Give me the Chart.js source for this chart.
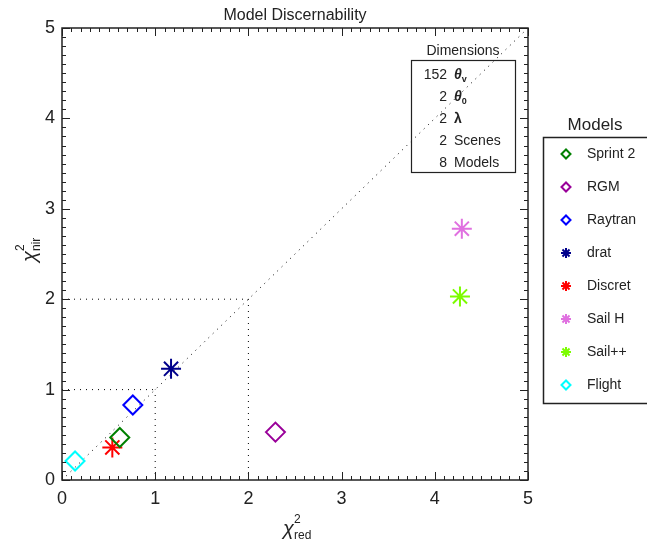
<!DOCTYPE html>
<html><head><meta charset="utf-8">
<script src="https://cdn.jsdelivr.net/npm/chart.js@4"></script>
<style>html,body{margin:0;padding:0;background:#fff;overflow:hidden}</style>
</head><body>
<canvas id="c" width="647" height="545" style="display:block;width:647px;height:545px"></canvas>
<script>
const models = ['Sprint 2','RGM','Raytran','drat','Discret','Sail H','Sail++','Flight'];
const chiRed = [0.62, 2.29, 0.76, 1.17, 0.54, 4.29, 4.27, 0.14];
const chiNir = [0.47, 0.53, 0.83, 1.23, 0.36, 2.78, 2.03, 0.21];
const colors = ['#008000','#990099','#0000ff','#00008b','#ff0000','#e070e0','#7cfc00','#00ffff'];
const markers = ['rectRot','rectRot','rectRot','star','star','star','star','rectRot'];
const axisTicks = [0, 1, 2, 3, 4, 5];
const guideX = [[0,5],[0,1],[1,1],[0,2],[2,2]];
const guideY = [[0,5],[1,1],[0,1],[2,2],[0,2]];
const dimCounts = ['152','2','2','2','8'];
const dimNames = ['θ','θ','λ','Scenes','Models'];
const dimSubs = ['v','0','','',''];

const FONT = '"Liberation Sans", Arial, sans-serif';
const AX = '#222';

const datasets = [];
guideX.forEach((gx, i) => {
  datasets.push({
    type: 'line', data: gx.map((x, j) => ({x, y: guideY[i][j]})),
    borderColor: '#000', borderWidth: 1, borderDash: [1, 5], pointRadius: 0, fill: false, order: 2
  });
});
models.forEach((m, i) => {
  const star = markers[i] === 'star';
  datasets.push({
    type: 'scatter', label: m, data: [{x: chiRed[i], y: chiNir[i]}],
    pointStyle: markers[i], pointRadius: star ? 10 : 9.5, pointHoverRadius: star ? 10 : 9.5,
    borderColor: colors[i], backgroundColor: 'rgba(0,0,0,0)', pointBorderWidth: 2, borderWidth: 2, order: 1
  });
});

const deco = {
  id: 'deco',
  afterDraw(chart) {
    const ctx = chart.ctx, xs = chart.scales.x, ys = chart.scales.y;
    const a = chart.chartArea;
    ctx.save();
    ctx.strokeStyle = AX; ctx.lineWidth = 1.5;
    ctx.strokeRect(a.left, a.top, a.right - a.left, a.bottom - a.top);
    ctx.lineWidth = 1;
    ctx.beginPath();
    for (let k = 0; k <= 50; k++) {
      const v = k / 10, major = k % 10 === 0, L = major ? 8 : 4;
      const px = Math.round(xs.getPixelForValue(v)) + 0.5;
      ctx.moveTo(px, a.bottom); ctx.lineTo(px, a.bottom - L);
      ctx.moveTo(px, a.top); ctx.lineTo(px, a.top + L);
      const py = Math.round(ys.getPixelForValue(v)) + 0.5;
      ctx.moveTo(a.left, py); ctx.lineTo(a.left + L, py);
      ctx.moveTo(a.right, py); ctx.lineTo(a.right - L, py);
    }
    ctx.stroke();

    ctx.fillStyle = '#222';
    ctx.font = '16px ' + FONT; ctx.textAlign = 'center'; ctx.textBaseline = 'alphabetic';
    ctx.fillText('Model Discernability', (a.left + a.right) / 2, 20);

    const cx = (a.left + a.right) / 2;
    ctx.textAlign = 'left';
    ctx.font = 'italic 20px ' + FONT;
    ctx.fillText('χ', cx - 12, 535);
    ctx.font = '12px ' + FONT;
    ctx.fillText('2', cx - 1, 523);
    ctx.fillText('red', cx - 1, 539);

    ctx.save();
    ctx.translate(36, 250);
    ctx.rotate(-Math.PI / 2);
    ctx.font = 'italic 20px ' + FONT;
    ctx.fillText('χ', -12, 0);
    ctx.font = '12px ' + FONT;
    ctx.fillText('2', -1, -12);
    ctx.fillText('nir', -1, 4);
    ctx.restore();

    ctx.strokeStyle = '#222'; ctx.lineWidth = 1.2;
    ctx.strokeRect(411.5, 60.5, 104, 112);
    ctx.font = '14px ' + FONT; ctx.textAlign = 'center';
    ctx.fillText('Dimensions', 463, 55);
    const rowsY = [79, 101, 123, 145, 167];
    dimCounts.forEach((c, i) => {
      ctx.font = '14px ' + FONT; ctx.textAlign = 'right';
      ctx.fillText(c, 447, rowsY[i]);
      ctx.textAlign = 'left';
      if (i < 3) {
        ctx.font = 'bold ' + (i < 2 ? 'italic ' : '') + '14px ' + FONT;
        ctx.fillText(dimNames[i], 454, rowsY[i]);
        if (dimSubs[i]) {
          const w = ctx.measureText(dimNames[i]).width;
          ctx.font = 'bold 9px ' + FONT;
          ctx.fillText(dimSubs[i], 454 + w, rowsY[i] + 3);
        }
      } else {
        ctx.fillText(dimNames[i], 454, rowsY[i]);
      }
    });

    ctx.font = '17px ' + FONT; ctx.textAlign = 'center';
    ctx.fillText('Models', 595, 130);
    ctx.strokeStyle = '#222'; ctx.lineWidth = 1.5;
    ctx.beginPath();
    ctx.moveTo(660, 137.5); ctx.lineTo(543.5, 137.5); ctx.lineTo(543.5, 403.5); ctx.lineTo(660, 403.5);
    ctx.stroke();
    ctx.font = '14px ' + FONT; ctx.textAlign = 'left'; ctx.textBaseline = 'middle';
    models.forEach((m, i) => {
      const y = 154 + i * 33;
      ctx.strokeStyle = colors[i]; ctx.lineWidth = 2;
      ctx.fillStyle = 'rgba(0,0,0,0)';
      const star = markers[i] === 'star';
      Chart.helpers.drawPoint(ctx, {pointStyle: markers[i], radius: star ? 5 : 4.5, rotation: 0, borderWidth: 2}, 566, y);
      ctx.fillStyle = '#222';
      ctx.fillText(m, 587, y);
    });
    ctx.restore();
  }
};

new Chart(document.getElementById('c'), {
  type: 'scatter',
  data: { datasets },
  options: {
    responsive: false, animation: false, devicePixelRatio: 1,
    layout: { padding: { left: 0, top: 28, right: 119, bottom: 25 } },
    plugins: { legend: { display: false }, tooltip: { enabled: false }, title: { display: false } },
    scales: {
      x: {
        type: 'linear', min: 0, max: 5,
        afterFit: s => { s.height = 40; },
        afterBuildTicks: s => { s.ticks = axisTicks.map(v => ({value: v})); },
        grid: { display: false, drawTicks: false }, border: { display: false },
        ticks: { padding: 8, color: '#222', font: { family: FONT, size: 18 }, maxRotation: 0, autoSkip: false }
      },
      y: {
        type: 'linear', min: 0, max: 5,
        afterFit: s => { s.width = 62; },
        afterBuildTicks: s => { s.ticks = axisTicks.map(v => ({value: v})); },
        grid: { display: false, drawTicks: false }, border: { display: false },
        ticks: { padding: 7, color: '#222', font: { family: FONT, size: 18 }, autoSkip: false }
      }
    }
  },
  plugins: [deco]
});
</script>
</body></html>
